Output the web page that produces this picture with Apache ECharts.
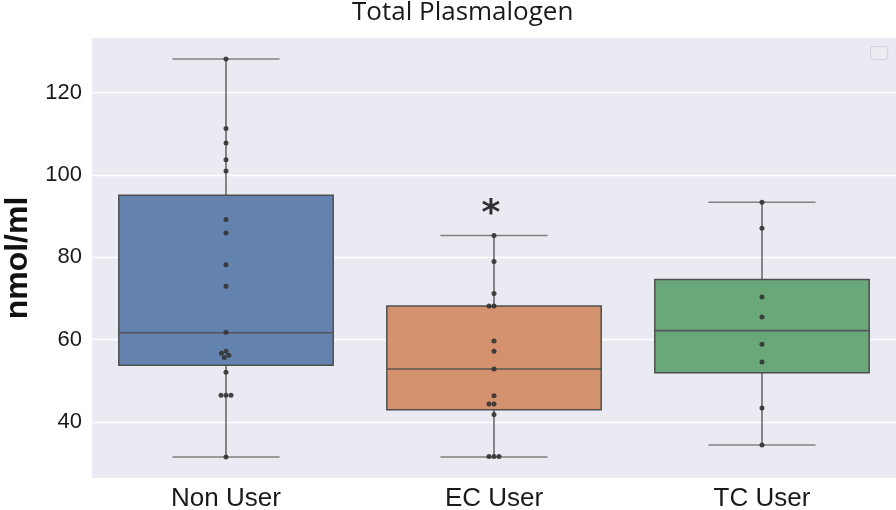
<!DOCTYPE html>
<html>
<head>
<meta charset="utf-8">
<script src="https://cdn.jsdelivr.net/npm/echarts@6/dist/echarts.min.js"></script>
<style>
html,body{margin:0;padding:0;background:#fff;}
#chart{width:896px;height:510px;}
</style>
</head>
<body>
<div id="chart"></div>
<script>
// ---- data ----
const categories = ['Non User', 'EC User', 'TC User'];
// [min whisker, Q1, median, Q3, max whisker]
const nonUserBox = [31.5, 53.8, 61.7, 95.1, 128.2];
const ecUserBox  = [31.5, 43.0, 52.9, 68.2, 85.3];
const tcUserBox  = [34.4, 52.0, 62.2, 74.6, 93.4];
const nonUserPoints = [128.2, 111.3, 107.8, 103.7, 101.0, 89.2, 85.9, 78.2, 73.0, 61.8, 57.2, 56.7, 56.2, 55.7, 52.1, 46.5, 46.5, 46.5, 31.5];
const ecUserPoints  = [85.3, 79.0, 71.2, 68.2, 68.2, 59.7, 57.2, 52.9, 46.4, 44.4, 44.4, 41.8, 31.6, 31.6, 31.6];
const tcUserPoints  = [93.4, 87.1, 70.4, 65.5, 58.9, 54.6, 43.4, 34.4];
const significance = ['', '*', ''];
const significanceLevel = [0, 90.4, 0];
const yTicks = [40, 60, 80, 100, 120];
const yMin = 26.4, yMax = 133.3;
const titleText = 'Total Plasmalogen';
const yName = 'nmol/ml';

// ---- styles ----
const boxColors = ['#6382ae', '#d4916d', '#6aa87a'];

const boxes = [nonUserBox, ecUserBox, tcUserBox];
const pointGroups = [nonUserPoints, ecUserPoints, tcUserPoints];
const boxData = boxes.map((b, i) => [i].concat(b));

const chart = echarts.init(document.getElementById('chart'), null, {renderer: 'canvas'});

function renderBox(params, api) {
  const idx = api.value(0);
  const vals = [1,2,3,4,5].map(k => api.value(k));
  const cx = api.coord([idx, vals[2]])[0];
  const bandW = api.size([1, 0])[0];
  const boxW = bandW * 0.8;
  const capW = bandW * 0.4;
  const y = vals.map(v => api.coord([idx, v])[1]);
  const whiskerStyle = {stroke: '#555', lineWidth: 1.6, opacity: 0.85};
  const capStyle = {stroke: '#777', lineWidth: 1.6, opacity: 0.9};
  return {
    type: 'group',
    children: [
      {type: 'line', shape: {x1: cx, y1: y[3], x2: cx, y2: y[4]}, style: whiskerStyle},
      {type: 'line', shape: {x1: cx, y1: y[0], x2: cx, y2: y[1]}, style: whiskerStyle},
      {type: 'line', shape: {x1: cx - capW/2, y1: y[4], x2: cx + capW/2, y2: y[4]}, style: capStyle},
      {type: 'line', shape: {x1: cx - capW/2, y1: y[0], x2: cx + capW/2, y2: y[0]}, style: capStyle},
      {type: 'rect', shape: {x: cx - boxW/2, y: y[3], width: boxW, height: y[1] - y[3]},
        style: {fill: boxColors[idx], stroke: '#4f4f4f', lineWidth: 1.5}},
      {type: 'line', shape: {x1: cx - boxW/2, y1: y[2], x2: cx + boxW/2, y2: y[2]},
        style: {stroke: '#4f4f4f', lineWidth: 1.6, opacity: 0.9}}
    ]
  };
}

function buildOption(scatterData) {
  return {
    backgroundColor: '#ffffff',
    animation: false,
    title: {
      text: titleText,
      left: 347, top: -5,
      textStyle: {fontFamily: 'Open Sans', fontSize: 26, fontWeight: 'normal', color: '#1a1a1a'}
    },
    grid: {left: 92, top: 38, right: 0, bottom: 32, show: true, backgroundColor: '#eaeaf2', borderWidth: 0,
      containLabel: false, outerBoundsMode: 'none'},
    xAxis: {
      type: 'category',
      data: categories,
      boundaryGap: true,
      axisLine: {show: false},
      axisTick: {show: false},
      splitLine: {show: false},
      axisLabel: {fontFamily: 'Liberation Sans', fontSize: 26, color: '#1a1a1a', margin: 8}
    },
    yAxis: {
      type: 'value',
      min: yMin, max: yMax,
      name: yName,
      nameLocation: 'middle',
      nameRotate: 90,
      nameGap: 56,
      nameTextStyle: {fontFamily: 'Liberation Sans', fontSize: 32, fontWeight: 'bold', color: '#111'},
      axisLine: {show: false},
      axisTick: {show: false, customValues: yTicks},
      splitLine: {show: true, lineStyle: {color: '#ffffff', width: 1.3}},
      axisLabel: {customValues: yTicks, fontFamily: 'Liberation Sans', fontSize: 22, color: '#1a1a1a', margin: 10}
    },
    graphic: [{
      type: 'rect', left: 870, top: 46,
      shape: {width: 17, height: 13, r: 3},
      style: {fill: '#ececf3', stroke: '#d6d6de', lineWidth: 1.2}
    }],
    series: [
      {
        type: 'custom',
        renderItem: renderBox,
        data: boxData,
        encode: {x: 0, y: [1,2,3,4,5]},
        z: 2
      },
      {
        type: 'scatter',
        data: scatterData,
        symbol: 'circle',
        symbolSize: 5,
        itemStyle: {color: '#333333', opacity: 0.9},
        z: 3
      },
      {
        type: 'scatter',
        data: significance.map((s, i) => ({value: [i, significanceLevel[i]], label: {show: s !== '', formatter: s}}))
          .filter((d, i) => significance[i] !== ''),
        symbolSize: 0,
        label: {position: 'inside', fontFamily: 'DejaVu Sans', fontSize: 36, color: '#000', fontWeight: 'bold', offset: [-3, 0]},
        z: 4
      }
    ]
  };
}

// first pass without offsets
chart.setOption(buildOption(pointGroups.flatMap((g, i) => g.map(v => ({value: [i, v]})))));

// beeswarm layout using the axis scale
const ppu = Math.abs(chart.convertToPixel({yAxisIndex: 0}, 100) - chart.convertToPixel({yAxisIndex: 0}, 120)) / 20;
const D = 5;
function swarm(values) {
  const placed = [];
  return values.map(v => {
    const y = v * ppu;
    const cands = [0];
    placed.forEach(q => {
      const dy = Math.abs(q.y - y);
      if (dy < D) {
        const dx = Math.sqrt(D * D - dy * dy);
        cands.push(q.x - dx, q.x + dx);
      }
    });
    const ok = cands.filter(x => placed.every(q => Math.hypot(q.x - x, q.y - y) >= D - 0.01));
    ok.sort((a, b) => (Math.abs(a) - Math.abs(b)) || (a - b));
    const x = ok[0];
    placed.push({x, y});
    return x;
  });
}
const scatterData = [];
pointGroups.forEach((g, i) => {
  const offs = swarm(g);
  g.forEach((v, k) => scatterData.push({value: [i, v], symbolOffset: [offs[k], 0]}));
});
chart.setOption(buildOption(scatterData));
</script>
</body>
</html>
